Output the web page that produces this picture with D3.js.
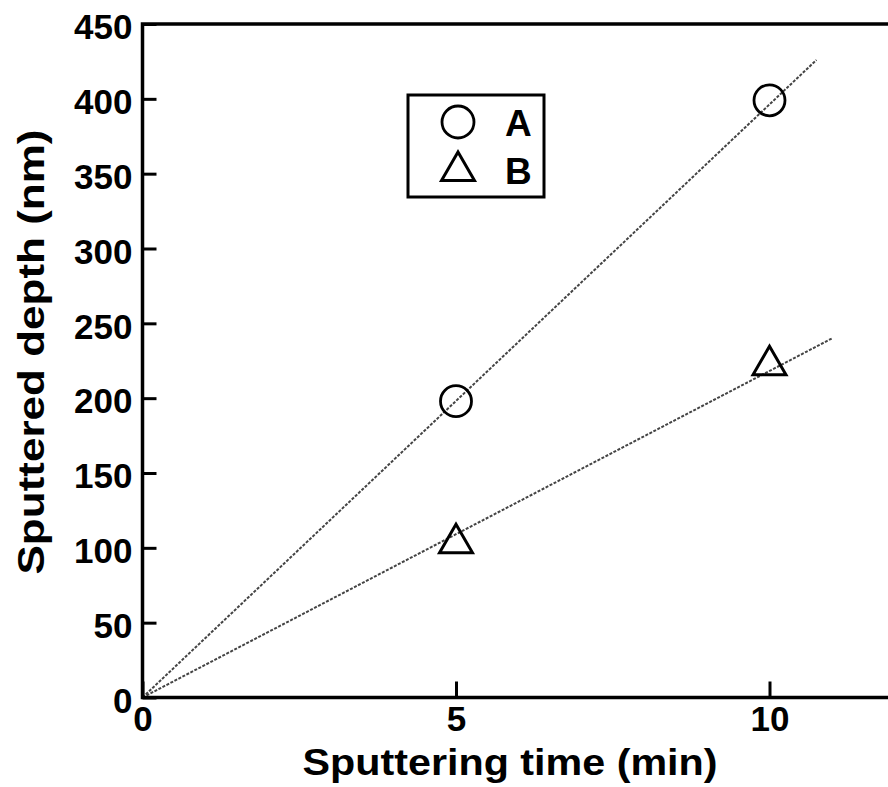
<!DOCTYPE html>
<html>
<head>
<meta charset="utf-8">
<script src="https://cdn.jsdelivr.net/npm/d3@7"></script>
<style>
  body { margin: 0; background: #fff; }
  text { font-family: "Liberation Sans", Arial, sans-serif; font-weight: bold; }
</style>
</head>
<body>
<div id="chart"></div>
<script>
// data
var times = [5, 10];
var depthA = [198, 399];
var depthB = [103, 222];
var seriesNames = ["A", "B"];
var fitA = [[0, 0], [10.75, 426]];
var fitB = [[0, 0], [11, 240]];
var yTicks = [0, 50, 100, 150, 200, 250, 300, 350, 400, 450];
var xTicks = [0, 5, 10];

var w = 888, h = 787;

var svg = d3.select("#chart")
  .append("svg")
  .attr("width", w)
  .attr("height", h);

var xScale = d3.scaleLinear()
  .domain([0, 12])
  .range([142.5, 142.5 + 12 * 62.7]);

var yScale = d3.scaleLinear()
  .domain([0, 450])
  .range([697.5, 24]);

// fitted lines
var line = d3.line()
  .x(function(d) { return xScale(d[0]); })
  .y(function(d) { return yScale(d[1]); });

svg.selectAll(".fit")
  .data([fitA, fitB])
  .enter()
  .append("path")
  .attr("class", "fit")
  .attr("d", line)
  .attr("fill", "none")
  .attr("stroke", "#444")
  .attr("stroke-width", 2)
  .attr("stroke-dasharray", "3,1.5");

// frame
svg.append("rect")
  .attr("x", xScale(0))
  .attr("y", yScale(450))
  .attr("width", xScale(12) - xScale(0))
  .attr("height", yScale(0) - yScale(450))
  .attr("fill", "none")
  .attr("stroke", "#000")
  .attr("stroke-width", 3.5);

// y axis
var yAxis = svg.append("g")
  .attr("transform", "translate(" + xScale(0) + ",0)")
  .call(d3.axisLeft(yScale).tickValues(yTicks).tickSize(-14).tickPadding(10));
yAxis.select(".domain").remove();
yAxis.selectAll("line").attr("stroke-width", 3);
yAxis.selectAll("text")
  .attr("font-size", "35px")
  .attr("font-family", null)
  .attr("dy", "0.42em")
  .attr("fill", "#000");

// x axis
var xAxis = svg.append("g")
  .attr("transform", "translate(0," + yScale(0) + ")")
  .call(d3.axisBottom(xScale).tickValues(xTicks).tickSize(-16).tickPadding(9));
xAxis.select(".domain").remove();
xAxis.selectAll("line").attr("stroke-width", 3);
xAxis.selectAll("text")
  .attr("font-size", "35px")
  .attr("font-family", null)
  .attr("fill", "#000");

// markers
var ptsA = times.map(function(t, i) { return [t, depthA[i]]; });
var ptsB = times.map(function(t, i) { return [t, depthB[i]]; });

svg.selectAll(".ptA")
  .data(ptsA)
  .enter()
  .append("circle")
  .attr("class", "ptA")
  .attr("cx", function(d) { return xScale(d[0]); })
  .attr("cy", function(d) { return yScale(d[1]); })
  .attr("r", 15.5)
  .attr("fill", "none")
  .attr("stroke", "#000")
  .attr("stroke-width", 2.8);

var tri = d3.symbol().type(d3.symbolTriangle).size(470);

svg.selectAll(".ptB")
  .data(ptsB)
  .enter()
  .append("path")
  .attr("class", "ptB")
  .attr("d", tri)
  .attr("transform", function(d) {
    return "translate(" + xScale(d[0]) + "," + yScale(d[1]) + ")";
  })
  .attr("fill", "none")
  .attr("stroke", "#000")
  .attr("stroke-width", 3);

// legend
var legend = svg.append("g");
legend.append("rect")
  .attr("x", 408)
  .attr("y", 95)
  .attr("width", 136)
  .attr("height", 102)
  .attr("fill", "#fff")
  .attr("stroke", "#000")
  .attr("stroke-width", 3);

legend.append("circle")
  .attr("cx", 458)
  .attr("cy", 122)
  .attr("r", 16)
  .attr("fill", "none")
  .attr("stroke", "#000")
  .attr("stroke-width", 2.8);

legend.append("path")
  .attr("d", tri)
  .attr("transform", "translate(458,171)")
  .attr("fill", "none")
  .attr("stroke", "#000")
  .attr("stroke-width", 3);

legend.selectAll(".lab")
  .data(seriesNames)
  .enter()
  .append("text")
  .attr("class", "lab")
  .attr("x", 505)
  .attr("y", function(d, i) { return 136 + i * 48; })
  .attr("font-size", "37px")
  .text(function(d) { return d; });

// axis titles
svg.append("text")
  .attr("x", 510)
  .attr("y", 775)
  .attr("text-anchor", "middle")
  .attr("font-size", "37px")
  .attr("textLength", 415)
  .attr("lengthAdjust", "spacingAndGlyphs")
  .text("Sputtering time (min)");

svg.append("text")
  .attr("transform", "translate(44,352) rotate(-90)")
  .attr("text-anchor", "middle")
  .attr("font-size", "37px")
  .attr("textLength", 445)
  .attr("lengthAdjust", "spacingAndGlyphs")
  .text("Sputtered depth (nm)");
</script>
</body>
</html>
